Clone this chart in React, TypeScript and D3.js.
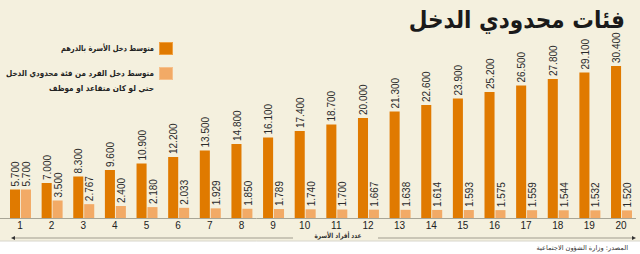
import React from "react";
import * as d3 from "d3";

const title = "فئات محدودي الدخل";
const householdSizes = [1, 2, 3, 4, 5, 6, 7, 8, 9, 10, 11, 12, 13, 14, 15, 16, 17, 18, 19, 20];
const householdIncome = [5700, 7000, 8300, 9600, 10900, 12200, 13500, 14800, 16100, 17400, 18700, 20000, 21300, 22600, 23900, 25200, 26500, 27800, 29100, 30400];
const individualIncome = [5700, 3500, 2767, 2400, 2180, 2033, 1929, 1850, 1789, 1740, 1700, 1667, 1638, 1614, 1593, 1575, 1559, 1544, 1532, 1520];
const legendHousehold = ["متوسط دخل الأسرة بالدرهم"];
const legendIndividual = ["متوسط دخل الفرد من فئة محدودي الدخل", "حتي لو كان متقاعد او موظف"];
const axisTitle = "عدد أفراد الأسرة";
const sourceText = "المصدر: وزارة الشؤون الاجتماعية";

const W = 640;
const H = 254;
const DARK = "#e07a00";
const LIGHT = "#f2aa66";
const BG = "#f4f0de";

const locale = d3.formatLocale({ decimal: ",", thousands: ".", grouping: [3], currency: ["", ""] });
const fmt = locale.format(",.0f");

export default function App() {
  const baseY = 218;
  const x = d3.scaleBand<number>().domain(householdSizes).range([10, 632]).paddingInner(0.337).paddingOuter(0);
  const inner = d3.scaleBand<string>().domain(["h", "i"]).range([0, x.bandwidth()]).paddingInner(0.08);
  const y = d3.scaleLinear().domain([0, 30400]).range([baseY, 66]);
  const num = "'Liberation Sans', Arial, sans-serif";
  const ar = "'DejaVu Sans', sans-serif";

  const bars = householdSizes.map((k, i) => {
    const gx = x(k)!;
    const items = [
      { key: "h", v: householdIncome[i], c: DARK },
      { key: "i", v: individualIncome[i], c: LIGHT },
    ];
    return (
      <g key={k}>
        {items.map((it) => {
          const bx = gx + inner(it.key)!;
          const bw = inner.bandwidth();
          const top = y(it.v);
          const cx = bx + bw / 2 + 1.5;
          return (
            <g key={it.key}>
              <rect x={bx} y={top} width={bw} height={baseY - top} fill={it.c} />
              <text
                transform={`translate(${cx},${top - 3}) rotate(-90)`}
                fontFamily={num}
                fontSize={10}
                fill="#2a2a2a"
                dominantBaseline="middle"
                textAnchor="start"
              >
                {fmt(it.v)}
              </text>
            </g>
          );
        })}
        <text x={gx + x.bandwidth() / 2 - 0.5} y={228.5} textAnchor="middle" fontFamily={num} fontSize={10} fill="#222">
          {k}
        </text>
      </g>
    );
  });

  const legendLens1 = [93];
  const legendLens2 = [148, 105];

  return (
    <svg width={W} height={H} style={{ position: "absolute", left: 0, top: 0 }} xmlns="http://www.w3.org/2000/svg">
      <rect x={0} y={0} width={W} height={H} fill="#ffffff" />
      <rect x={0} y={0} width={W} height={241} fill={BG} />
      <line x1={0} x2={W} y1={241} y2={241} stroke="#d8d6cc" strokeWidth={1} />
      <g transform="translate(625,28) scale(0.9,1)">
        <text x={0} y={0} textAnchor="end" fontFamily={ar} fontWeight="bold" fontSize={24} fill="#1a1a1a">
          {title}
        </text>
      </g>
      {/* legend */}
      <rect x={159.5} y={42.5} width={13} height={12} fill={DARK} stroke="#f0a040" strokeWidth={1} />
      <rect x={159.5} y={67.5} width={13} height={12} fill={LIGHT} stroke="#f6c08a" strokeWidth={1} />
      {legendHousehold.map((t, i) => (
        <text key={t} x={154} y={51 + i * 15} textAnchor="end" fontFamily={ar} fontWeight="bold" fontSize={8} fill="#222" textLength={legendLens1[i]} lengthAdjust="spacingAndGlyphs">
          {t}
        </text>
      ))}
      {legendIndividual.map((t, i) => (
        <text key={t} x={154} y={76 + i * 15} textAnchor="end" fontFamily={ar} fontWeight="bold" fontSize={8} fill="#222" textLength={legendLens2[i]} lengthAdjust="spacingAndGlyphs">
          {t}
        </text>
      ))}
      {bars}
      <line x1={0} x2={636} y1={baseY + 0.5} y2={baseY + 0.5} stroke="#a8a596" strokeWidth={1} />
      {/* axis arrow */}
      <line x1={14} x2={293} y1={238} y2={238} stroke="#bdb9a8" strokeWidth={1.5} />
      <line x1={378} x2={632} y1={238} y2={238} stroke="#bdb9a8" strokeWidth={1.5} />
      <path d="M11,238 L15,236 L15,240 Z" fill="#333" />
      <path d="M636,238 L632,236 L632,240 Z" fill="#333" />
      <text x={338} y={237.5} textAnchor="middle" fontFamily={ar} fontWeight="bold" fontSize={7} fill="#333" textLength={47} lengthAdjust="spacingAndGlyphs">
        {axisTitle}
      </text>
      <text x={628} y={250} textAnchor="end" fontFamily={ar} fontSize={6.6} fill="#333">
        {sourceText}
      </text>
    </svg>
  );
}
